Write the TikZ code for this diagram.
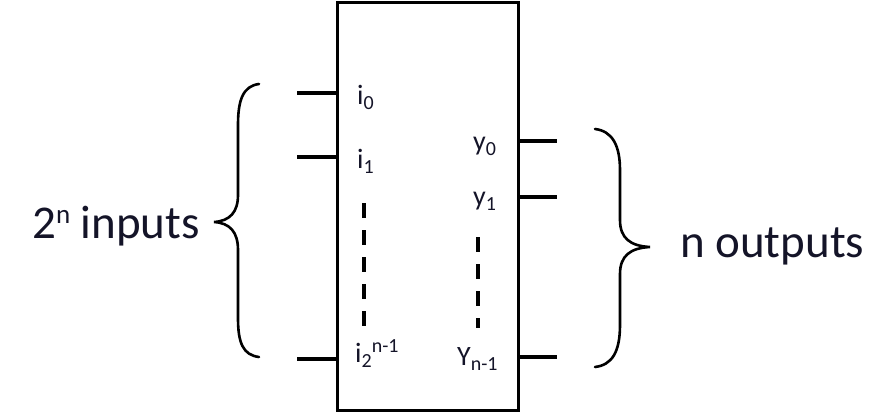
\documentclass[tikz,border=0pt]{standalone}
\usepackage{fontspec}
\setmainfont{Carlito}
\usetikzlibrary{positioning}

\definecolor{ink}{RGB}{20,20,40}
\newcommand{\dn}[1]{\raisebox{-5pt}{\fontsize{20}{20}\selectfont #1}}
\newcommand{\up}[1]{\raisebox{10pt}{\fontsize{20}{20}\selectfont #1}}
\newcommand{\bigup}[1]{\raisebox{15pt}{\fontsize{27}{27}\selectfont #1}}

\tikzset{
  pin/.style={line width=3.2pt},
  lbl/.style={font=\fontsize{28}{28}\selectfont, text=ink, inner sep=0pt, anchor=base west},
  big/.style={font=\fontsize{47}{47}\selectfont, text=ink, inner sep=0pt, anchor=base west},
  curly/.style={line width=2.6pt, line cap=round},
  dots/.style={line width=4pt, dash pattern=on 15pt off 12pt},
}

\begin{document}
\begin{tikzpicture}[x=1pt, y=-1pt]
  \useasboundingbox (0,0) rectangle (892,415);

  % decoder block
  \node[draw, line width=3pt, minimum width=181pt, minimum height=408pt,
        outer sep=0pt, anchor=north west] (dec) at (337,2) {};

  % input pins
  \coordinate (in0) at (297,93);
  \coordinate (in1) at (297,157);
  \coordinate (inN) at (297,359);
  \draw[pin] (in0) -- (in0 -| dec.west);
  \draw[pin] (in1) -- (in1 -| dec.west);
  \draw[pin] (inN) -- (inN -| dec.west);

  % output pins
  \coordinate (out0) at (557,141);
  \coordinate (out1) at (557,197);
  \coordinate (outN) at (557,357);
  \draw[pin] (out0 -| dec.east) -- (out0);
  \draw[pin] (out1 -| dec.east) -- (out1);
  \draw[pin] (outN -| dec.east) -- (outN);

  % pin labels
  \node[lbl] (li0) at (357,104) {i\dn{0}};
  \node[lbl] (li1) at (357,168) {i\dn{1}};
  \node[lbl] (liN) at (355,362) {i\dn{2}\up{n-1}};
  \node[lbl] (ly0) at (473,150) {y\dn{0}};
  \node[lbl] (ly1) at (473,205) {y\dn{1}};
  \node[lbl] (lyN) at (457,365) {Y\dn{n-1}};

  % dashed continuation
  \coordinate (dl1) at (364,203);
  \coordinate (dl2) at (364,326);
  \coordinate (dr1) at (478,237);
  \coordinate (dr2) at (478,328);
  \draw[dots] (dl1) -- (dl2);
  \draw[dots] (dr1) -- (dr2);

  % braces
  \coordinate (lb1) at (259,84);
  \coordinate (lbt) at (214,222);
  \coordinate (lb2) at (259,357);
  \draw[curly] (lb1) .. controls (243,86) and (238,100) .. (238,125)
     -- (238,195) .. controls (238,212) and (230,221) .. (lbt)
     .. controls (230,223) and (238,232) .. (238,250)
     -- (238,318) .. controls (238,343) and (243,355) .. (lb2);
  \coordinate (rb1) at (595,129);
  \coordinate (rbt) at (650,247);
  \coordinate (rb2) at (595,367);
  \draw[curly] (rb1) .. controls (612,131) and (620,145) .. (620,170)
     -- (620,220) .. controls (620,238) and (630,246) .. (rbt)
     .. controls (630,248) and (620,256) .. (620,274)
     -- (620,325) .. controls (620,352) and (612,365) .. (rb2);

  % group labels
  \node[big] (lin) at (32,238) {2\bigup{n} inputs};
  \node[big] (lout) at (680,257) {n outputs};
\end{tikzpicture}
\end{document}
